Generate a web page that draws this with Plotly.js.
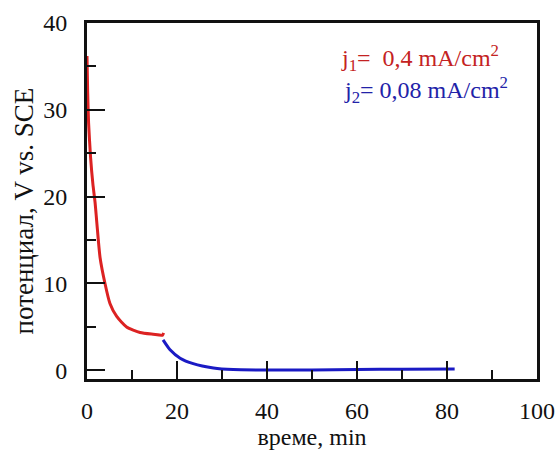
<!DOCTYPE html>
<html>
<head>
<meta charset="utf-8">
<script src="https://cdn.plot.ly/plotly-3.0.1.min.js"></script>
<style>html,body{margin:0;padding:0;background:#fff;}#chart{width:556px;height:452px;}</style>
</head>
<body>
<div id="chart"></div>
<script>
// Data
var redTime = [0, 0.15, 0.35, 0.8, 1.3, 1.8, 2.2, 2.9, 4.0, 5.1, 6.6, 8.8, 11.8, 14.7, 16.8, 17.0];
var redPotential = [36.2, 32, 28.5, 24.5, 21.5, 19.3, 16.9, 13.0, 10.0, 7.7, 6.2, 5.0, 4.35, 4.15, 4.05, 4.3];
var blueTime = [16.9, 18.4, 20.7, 23.6, 28.1, 32.5, 38.4, 50, 60, 70, 81.7];
var bluePotential = [3.5, 2.4, 1.4, 0.77, 0.27, 0.08, 0.04, 0.05, 0.1, 0.12, 0.15];
var xTickVals = [0, 20, 40, 60, 80, 100];
var yTickVals = [0, 10, 20, 30, 40];
var label1 = "j<sub>1</sub>=&nbsp; 0,4 mA/cm<sup>2</sup>";
var label2 = "j<sub>2</sub>= 0,08 mA/cm<sup>2</sup>";
var xTitle = "време, min";
var yTitle = "потенциал, V vs. SCE";

var font = "'Liberation Serif', 'Times New Roman', serif";
var ink = "#111";
var traces = [
  {x: redTime, y: redPotential, mode: "lines", line: {color: "#dc2222", width: 3, shape: "spline", smoothing: 0.6}, showlegend: false, hoverinfo: "skip"},
  {x: blueTime, y: bluePotential, mode: "lines", line: {color: "#1a1ac4", width: 3, shape: "spline", smoothing: 0.6}, showlegend: false, hoverinfo: "skip"}
];
var layout = {
  width: 556, height: 452,
  margin: {l: 87, r: 19, t: 23, b: 73},
  paper_bgcolor: "#fff", plot_bgcolor: "#fff",
  font: {family: font, size: 24, color: ink},
  xaxis: {
    range: [0, 100], tickvals: xTickVals, ticktext: xTickVals.map(String),
    showgrid: false, zeroline: false,
    showline: true, mirror: true, linecolor: ink, linewidth: 3,
    ticks: "inside", ticklen: 18, tickwidth: 2, tickcolor: ink,
    minor: {ticks: "inside", ticklen: 9, tickwidth: 2, tickcolor: ink, dtick: 10, tick0: 0, showgrid: false},
    tickfont: {family: font, size: 24, color: ink},
    ticklabelstandoff: 8,
    title: {text: xTitle, font: {family: font, size: 24, color: ink}, standoff: 0}
  },
  yaxis: {
    range: [-1, 40], tickvals: yTickVals, ticktext: yTickVals.map(String),
    showgrid: false, zeroline: false,
    showline: true, mirror: true, linecolor: ink, linewidth: 3,
    ticks: "inside", ticklen: 18, tickwidth: 2, tickcolor: ink,
    minor: {ticks: "inside", ticklen: 9, tickwidth: 2, tickcolor: ink, dtick: 5, tick0: 0, showgrid: false},
    tickfont: {family: font, size: 24, color: ink},
    ticklabelstandoff: 12,
    title: {text: yTitle + "&nbsp;&nbsp;&nbsp;", font: {family: font, size: 27, color: ink}, standoff: 2}
  },
  annotations: [
    {x: 56.0, y: 36.0, xref: "x", yref: "y", xanchor: "left", yanchor: "middle", showarrow: false, text: label1, font: {family: font, size: 24, color: "#c42222"}},
    {x: 56.6, y: 32.3, xref: "x", yref: "y", xanchor: "left", yanchor: "middle", showarrow: false, text: label2, font: {family: font, size: 24, color: "#2222a8"}}
  ]
};
Plotly.newPlot("chart", traces, layout, {staticPlot: true, displayModeBar: false});
</script>
</body>
</html>
